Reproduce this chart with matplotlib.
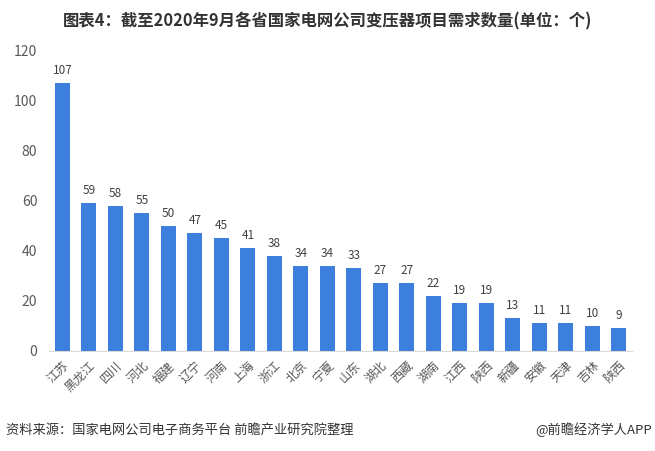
"""
各省国家电网公司变压器项目需求数量柱状图
"""
import matplotlib
matplotlib.use('Agg')
import matplotlib.pyplot as plt

plt.rcParams['font.family'] = ['Noto Sans CJK SC', 'DejaVu Sans']
plt.rcParams['axes.unicode_minus'] = False

# 数据
provinces = ['江苏', '黑龙江', '四川', '河北', '福建', '辽宁', '河南', '上海', '浙江', '北京', '宁夏',
             '山东', '湖北', '西藏', '湖南', '江西', '陕西', '新疆', '安徽', '天津', '吉林', '陕西']
counts = [107, 59, 58, 55, 50, 47, 45, 41, 38, 34, 34, 33, 27, 27, 22, 19, 19, 13, 11, 11, 10, 9]
yticks = [0, 20, 40, 60, 80, 100, 120]

fig = plt.figure(figsize=(6.55, 4.51), dpi=100)
ax = fig.add_axes([0.075, 0.222, 0.89, 0.665])

x = range(len(provinces))
bars = ax.bar(x, counts, width=0.57, color='#3d7fdc', zorder=2)
for xi, v in zip(x, counts):
    ax.text(xi, v + 2.5, str(v), ha='center', va='bottom', fontsize=8.5, color='#404040')

ax.set_xlim(-0.5, len(provinces) - 0.5)
ax.set_ylim(0, 120)
ax.set_yticks(yticks)
ax.set_yticklabels([str(t) for t in yticks], fontsize=10, color='#595959')
ax.set_xticks(list(x))
ax.set_xticklabels(provinces, rotation=45, ha='right', rotation_mode='anchor',
                   fontsize=8.8, color='#595959')
ax.tick_params(axis='both', length=0)
ax.tick_params(axis='y', pad=8.5)
ax.tick_params(axis='x', pad=6)

for s in ['top', 'right', 'left']:
    ax.spines[s].set_visible(False)
ax.spines['bottom'].set_color('#d9d9d9')

fig.text(0.5, 0.952, '图表4：截至2020年9月各省国家电网公司变压器项目需求数量(单位：个)',
         ha='center', va='center', fontsize=11.8, fontweight='bold', color='#333333')
fig.text(0.009, 0.047, '资料来源：国家电网公司电子商务平台 前瞻产业研究院整理',
         ha='left', va='center', fontsize=9.5, color='#333333')
fig.text(0.996, 0.047, '@前瞻经济学人APP',
         ha='right', va='center', fontsize=9.5, color='#333333')

plt.savefig('out.png', dpi=100)
